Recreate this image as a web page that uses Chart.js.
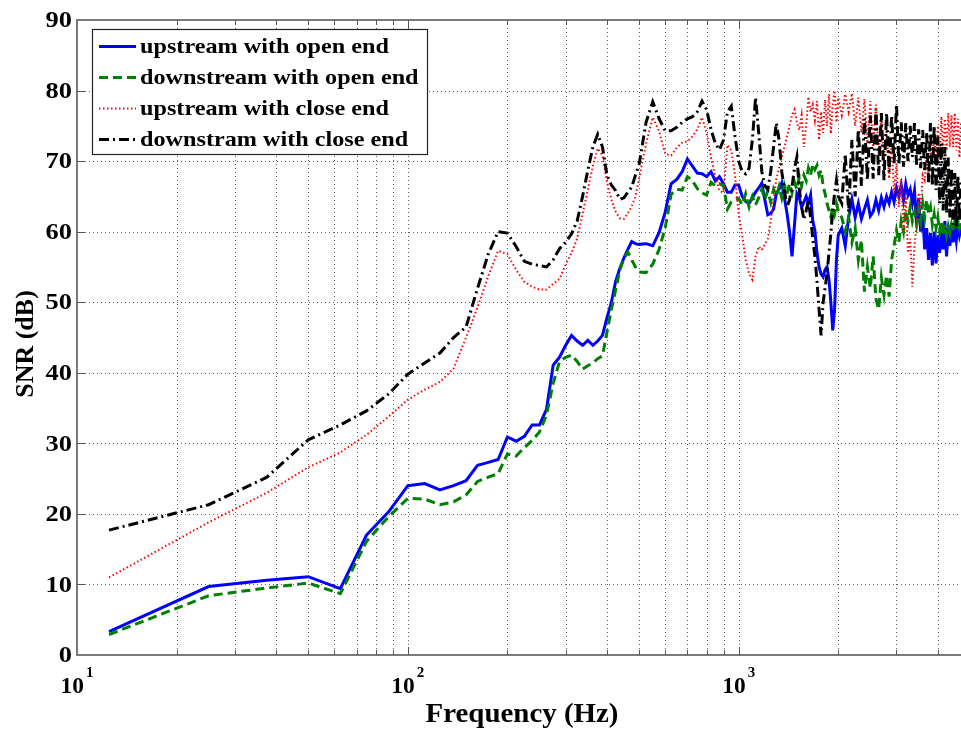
<!DOCTYPE html>
<html>
<head>
<meta charset="utf-8">
<title>SNR vs Frequency</title>
<script src="https://cdn.jsdelivr.net/npm/chart.js@4.4.1/dist/chart.umd.min.js"></script>
<style>
  html, body { margin: 0; padding: 0; background: #ffffff; }
  #wrap { width: 961px; height: 731px; }
</style>
</head>
<body>
<div id="wrap"><canvas id="snr" width="961" height="731"></canvas></div>
<script>
// Frequency axis samples (Hz)
const freqHz = [
  12.5, 25, 37.5, 50, 62.5, 75, 87.5, 100, 112.5, 125,
  137.5, 150, 162.5, 175, 187.5, 200, 212.5, 225, 237.5, 250,
  262.5, 275, 287.5, 300, 312.5, 325, 337.5, 350, 362.5, 375,
  387.5, 400, 412.5, 425, 437.5, 450, 462.5, 475, 487.5, 500,
  525, 550, 575, 600, 625, 650, 675, 700, 725, 750,
  775, 800, 825, 850, 875, 900, 925, 950, 975, 1000,
  1025, 1050, 1075, 1100, 1125, 1150, 1175, 1200, 1225, 1250,
  1275, 1300, 1325, 1350, 1375, 1400, 1425, 1450, 1475, 1500,
  1525, 1550, 1575, 1600, 1625, 1650, 1675, 1700, 1725, 1750,
  1775, 1800, 1825, 1850, 1875, 1900, 1925, 1950, 1975, 2000,
  2050, 2100, 2150, 2200, 2250, 2300, 2350, 2400, 2450, 2500,
  2550, 2600, 2650, 2700, 2750, 2800, 2850, 2900, 2950, 3000,
  3050, 3100, 3150, 3200, 3250, 3300, 3350, 3400, 3450, 3500,
  3550, 3600, 3650, 3700, 3750, 3800, 3850, 3900, 3950, 4000,
  4050, 4100, 4150, 4200, 4250, 4300, 4350, 4400, 4450, 4500,
  4550, 4600, 4650, 4700
];

// SNR (dB), upstream microphone, open end
const upOpen = [
  3.3, 9.7, 10.6, 11.1, 9.4, 17.0, 20.3, 24.0, 24.3, 23.4,
  24.0, 24.7, 26.9, 27.3, 27.7, 30.9, 30.3, 31.0, 32.6, 32.6,
  34.8, 41.1, 42.2, 43.9, 45.3, 44.5, 43.9, 44.6, 43.9, 44.5,
  45.3, 47.8, 50.0, 53.0, 54.8, 56.3, 57.5, 58.6, 58.3, 58.2,
  58.3, 58.0, 59.9, 62.8, 66.8, 67.4, 68.5, 70.3, 69.3, 68.3,
  68.2, 67.8, 68.5, 67.2, 67.8, 66.8, 65.6, 65.6, 66.6, 66.6,
  65.0, 64.3, 64.0, 64.8, 65.6, 66.2, 66.9, 64.5, 62.4, 62.6,
  63.2, 65.4, 66.0, 66.9, 64.8, 62.6, 60.0, 56.5, 61.0, 65.4,
  64.8, 63.5, 64.2, 65.0, 64.0, 65.2, 61.5, 60.2, 57.0, 55.0,
  54.0, 53.6, 54.6, 55.0, 53.2, 50.0, 46.0, 49.0, 56.0, 59.5,
  60.5, 58.0, 62.0, 64.6, 62.0, 64.0, 61.8, 63.2, 64.5, 62.2,
  62.8, 64.5, 63.0, 64.8, 63.5, 65.0, 64.0, 65.6, 64.2, 66.2,
  65.0, 66.6, 64.5, 66.8, 65.2, 66.0, 64.0, 65.8, 61.0, 64.8,
  60.0, 62.5, 57.5, 60.5, 56.0, 59.8, 55.2, 60.0, 55.5, 59.5,
  57.0, 61.0, 57.5, 61.5, 56.5, 60.5, 58.0, 61.2, 58.5, 60.8,
  58.8, 61.0, 59.5, 60.5
];

// SNR (dB), downstream microphone, open end
const downOpen = [
  2.9, 8.4, 9.5, 10.2, 8.7, 16.1, 19.6, 22.2, 22.1, 21.3,
  21.7, 22.7, 24.6, 25.2, 25.7, 28.5, 28.2, 29.4, 30.4, 31.6,
  34.0, 38.5, 41.6, 42.2, 42.5, 41.6, 40.5, 41.0, 41.4, 42.0,
  42.4, 45.8, 49.0, 51.8, 54.6, 56.2, 57.1, 56.0, 55.0, 54.3,
  54.2, 55.4, 57.5, 60.6, 65.3, 66.0, 65.9, 67.8, 67.2, 66.1,
  65.5, 65.2, 67.0, 66.5, 66.8, 66.5, 63.2, 64.2, 64.6, 64.7,
  63.8, 65.4, 63.5, 65.0, 63.8, 64.8, 66.0, 64.6, 65.8, 64.2,
  66.0, 65.0, 66.4, 64.8, 66.6, 65.4, 66.8, 65.5, 67.0, 66.0,
  67.8, 66.5, 68.0, 67.2, 69.0, 68.0, 69.6, 68.8, 69.4, 68.0,
  68.7, 66.5, 65.4, 64.0, 63.0, 62.1, 63.5, 62.5, 64.0, 63.0,
  62.0, 60.0, 62.0, 58.5, 60.5, 56.0, 58.8, 51.5, 55.0, 52.0,
  56.5, 50.5, 49.0, 53.5, 51.0, 53.8, 50.8, 56.0, 58.0, 60.2,
  58.5, 61.5, 60.0, 63.0, 61.5, 63.5, 61.5, 62.8, 61.0, 63.2,
  61.5, 64.0, 62.0, 64.5, 62.5, 63.5, 61.0, 62.5, 60.5, 62.0,
  60.0, 61.5, 59.5, 61.0, 59.5, 60.8, 59.8, 61.0, 60.0, 61.2,
  60.2, 61.5, 60.5, 61.2
];

// SNR (dB), upstream microphone, closed end
const upClose = [
  11.0, 18.8, 23.0, 26.6, 28.7, 31.2, 33.8, 36.2, 37.6, 38.7,
  40.6, 45.0, 49.3, 53.7, 57.3, 56.8, 54.6, 52.9, 52.2, 51.8,
  51.8, 52.6, 53.3, 55.3, 57.0, 59.0, 62.5, 66.0, 69.3, 71.8,
  70.8, 67.0, 64.5, 62.8, 61.9, 61.8, 62.6, 63.6, 65.0, 67.5,
  72.5, 76.2, 74.2, 71.0, 70.8, 71.9, 72.6, 72.8, 73.5, 74.5,
  76.2, 74.0, 70.5, 67.8, 65.8, 65.5, 72.3, 71.5, 68.0, 62.5,
  59.5, 56.0, 54.0, 53.2, 56.5, 57.9, 57.4, 58.2, 59.0, 61.5,
  64.5, 67.5, 69.0, 70.6, 72.0, 73.5, 75.0, 76.5, 77.3, 75.5,
  74.4, 76.5, 72.0, 75.0, 79.1, 77.0, 78.0, 75.8, 78.5, 73.0,
  77.0, 74.0, 78.7, 75.0, 79.5, 73.9, 78.0, 80.0, 75.5, 79.0,
  76.5, 79.5, 77.0, 79.6, 75.0, 79.0, 74.0, 78.8, 72.5, 78.5,
  72.0, 78.0, 71.0, 76.5, 70.0, 74.4, 67.5, 72.5, 65.5, 69.7,
  63.5, 67.5, 60.0, 65.0, 57.0, 59.0, 52.2, 58.0, 61.0, 65.5,
  63.0, 68.0, 67.3, 70.6, 68.0, 72.5, 69.7, 74.4, 70.0, 75.0,
  70.6, 76.3, 71.0, 76.0, 71.5, 76.8, 72.0, 76.5, 72.0, 76.8,
  71.5, 76.0, 70.5, 75.5
];

// SNR (dB), downstream microphone, closed end
const downClose = [
  17.7, 21.3, 25.2, 30.5, 32.6, 34.6, 37.0, 39.8, 41.4, 42.8,
  45.0, 46.5, 52.0, 56.8, 60.0, 59.8, 57.9, 55.8, 55.4, 55.2,
  55.0, 56.0, 57.6, 58.5, 59.7, 61.5, 65.0, 68.7, 72.0, 73.8,
  72.0, 68.0, 66.6, 65.8, 64.6, 64.8, 65.6, 66.3, 68.0, 69.5,
  75.5, 78.4, 76.0, 74.3, 74.3, 74.8, 75.5, 76.0, 76.3, 77.0,
  78.5, 77.3, 74.5, 72.5, 71.6, 73.0, 77.0, 77.8, 73.5, 70.0,
  68.5, 68.2, 69.0, 73.0, 79.0, 74.0, 68.5, 66.5, 66.0, 68.5,
  72.0, 75.4, 73.0, 68.5, 65.9, 63.5, 64.5, 66.4, 69.0, 70.6,
  66.0, 63.5, 61.7, 63.0, 64.5, 62.0, 59.0, 56.5, 53.0, 49.0,
  45.3, 50.0, 52.0, 54.1, 57.0, 59.8, 63.0, 65.5, 67.3, 65.0,
  64.0, 71.0, 62.8, 73.0, 65.0, 74.5, 66.5, 76.0, 67.3, 76.5,
  67.5, 77.3, 68.0, 76.8, 67.3, 76.8, 68.5, 76.5, 69.7, 78.0,
  69.5, 75.5, 69.2, 75.4, 70.0, 75.0, 70.6, 75.4, 69.5, 74.5,
  69.0, 74.4, 68.7, 74.0, 67.0, 75.4, 66.5, 75.0, 65.9, 73.5,
  64.0, 72.5, 63.0, 72.0, 62.6, 70.5, 62.0, 69.0, 61.0, 68.3,
  60.7, 68.0, 61.5, 67.5
];

const seriesLabels = [
  'upstream with open end',
  'downstream with open end',
  'upstream with close end',
  'downstram with close end'
];

// Axis ticks and titles
const yTickValues = [0, 10, 20, 30, 40, 50, 60, 70, 80, 90];
const xDecadeTicks = [10, 100, 1000];
const xDecadeExponents = ['1', '2', '3'];
const xTitle = 'Frequency (Hz)';
const yTitle = 'SNR (dB)';

const SERIF = '"Liberation Serif", "Times New Roman", serif';
const X_MIN = 10, X_MAX = 4700;

const pairs = vals => freqHz.map((f, i) => ({ x: f, y: vals[i] }));

// Minor + major log grid positions
const gridFreqs = xDecadeTicks
  .flatMap(d => [1, 2, 3, 4, 5, 6, 7, 8, 9].map(m => d * m))
  .filter(f => f > X_MIN && f < X_MAX);

// Bold serif text with an optional horizontal stretch and rotation
function drawLabel(ctx, text, x, y, o) {
  ctx.save();
  ctx.translate(x, y);
  if (o.rot) ctx.rotate(o.rot);
  ctx.scale(o.sx || 1, 1);
  ctx.font = 'bold ' + o.size + 'px ' + SERIF;
  ctx.fillStyle = '#000';
  ctx.textAlign = o.align || 'left';
  ctx.textBaseline = o.baseline || 'alphabetic';
  ctx.fillText(text, 0, 0);
  ctx.restore();
}

function labelWidth(ctx, text, size, sx) {
  ctx.save();
  ctx.font = 'bold ' + size + 'px ' + SERIF;
  const w = ctx.measureText(text).width * (sx || 1);
  ctx.restore();
  return w;
}

const framePlugin = {
  id: 'framePlugin',
  beforeDatasetsDraw(chart) {
    const { ctx, chartArea: a, scales: { x, y } } = chart;
    ctx.save();
    ctx.strokeStyle = 'rgba(30,30,30,0.7)';
    ctx.lineWidth = 1;
    ctx.setLineDash([1, 3]);
    ctx.beginPath();
    gridFreqs.forEach(f => {
      const px = Math.round(x.getPixelForValue(f)) + 0.5;
      ctx.moveTo(px, a.top); ctx.lineTo(px, a.bottom);
    });
    yTickValues.forEach(v => {
      if (v <= 0 || v >= 90) return;
      const py = Math.round(y.getPixelForValue(v)) + 0.5;
      ctx.moveTo(a.left, py); ctx.lineTo(a.right, py);
    });
    ctx.stroke();
    ctx.restore();
  },
  afterDatasetsDraw(chart) {
    const { ctx, chartArea: a, scales: { x, y } } = chart;
    ctx.save();
    // axes box (top, left, bottom)
    ctx.strokeStyle = '#7a7a7a';
    ctx.lineWidth = 2;
    ctx.setLineDash([]);
    ctx.beginPath();
    ctx.moveTo(a.right + 2, a.top); ctx.lineTo(a.left, a.top);
    ctx.lineTo(a.left, a.bottom); ctx.lineTo(a.right + 2, a.bottom);
    ctx.stroke();

    // inward tick marks
    ctx.lineWidth = 1;
    ctx.strokeStyle = '#555';
    ctx.beginPath();
    gridFreqs.forEach(f => {
      const px = Math.round(x.getPixelForValue(f)) + 0.5;
      const len = xDecadeTicks.includes(f) ? 8 : 5;
      ctx.moveTo(px, a.top); ctx.lineTo(px, a.top + len);
      ctx.moveTo(px, a.bottom); ctx.lineTo(px, a.bottom - len);
    });
    yTickValues.forEach(v => {
      if (v <= 0 || v >= 90) return;
      const py = Math.round(y.getPixelForValue(v)) + 0.5;
      ctx.moveTo(a.left, py); ctx.lineTo(a.left + 8, py);
    });
    ctx.stroke();
    ctx.restore();

    // y tick labels
    yTickValues.forEach(v => {
      drawLabel(ctx, String(v), a.left - 5, y.getPixelForValue(v) + 1,
        { size: 24, sx: 1.1, align: 'right', baseline: 'middle' });
    });

    // decade labels 10^n
    xDecadeTicks.forEach((f, i) => {
      const px = x.getPixelForValue(f);
      const wBase = labelWidth(ctx, '10', 23, 1.02);
      const wExp = labelWidth(ctx, xDecadeExponents[i], 15, 1);
      const start = px - (wBase + 2 + wExp) / 2;
      drawLabel(ctx, '10', start, a.bottom + 38, { size: 23, sx: 1.02 });
      drawLabel(ctx, xDecadeExponents[i], start + wBase + 2, a.bottom + 22, { size: 15 });
    });

    // axis titles
    drawLabel(ctx, xTitle, (a.left + a.right) / 2 + 3, 722, { size: 27, sx: 1.07, align: 'center' });
    drawLabel(ctx, yTitle, 33, 344, { size: 26, rot: -Math.PI / 2, align: 'center' });

    // legend
    ctx.save();
    const box = { x: 92.5, y: 29.5, w: 335, h: 125 };
    ctx.fillStyle = '#fff';
    ctx.fillRect(box.x, box.y, box.w, box.h);
    ctx.strokeStyle = '#222';
    ctx.lineWidth = 1.2;
    ctx.strokeRect(box.x, box.y, box.w, box.h);
    chart.data.datasets.forEach((ds, i) => {
      const ry = 46.5 + i * 31;
      ctx.save();
      ctx.strokeStyle = ds.borderColor;
      ctx.lineWidth = ds.borderWidth;
      ctx.setLineDash(ds.borderDash || []);
      ctx.lineCap = 'butt';
      ctx.beginPath();
      ctx.moveTo(99, ry); ctx.lineTo(136, ry);
      ctx.stroke();
      ctx.restore();
      drawLabel(ctx, ds.label, 140, ry + 1, { size: 22, sx: 1.1, baseline: 'middle' });
    });
    ctx.restore();
  }
};

new Chart(document.getElementById('snr'), {
  type: 'line',
  data: {
    datasets: [
      { label: seriesLabels[0], data: pairs(upOpen), borderColor: '#0000ff', borderWidth: 3, borderDash: [], order: 4 },
      { label: seriesLabels[1], data: pairs(downOpen), borderColor: '#008000', borderWidth: 3, borderDash: [9, 5], order: 3 },
      { label: seriesLabels[2], data: pairs(upClose), borderColor: '#ff0000', borderWidth: 2, borderDash: [1.5, 2.5], order: 2 },
      { label: seriesLabels[3], data: pairs(downClose), borderColor: '#000000', borderWidth: 3, borderDash: [10, 4, 2, 4], order: 1 }
    ]
  },
  options: {
    responsive: false,
    animation: false,
    devicePixelRatio: 1,
    layout: { padding: { left: 77, right: 0, top: 20, bottom: 76 } },
    elements: {
      point: { radius: 0, hoverRadius: 0 },
      line: { tension: 0, fill: false, borderCapStyle: 'butt', borderJoinStyle: 'miter' }
    },
    plugins: { legend: { display: false }, tooltip: { enabled: false } },
    scales: {
      x: { type: 'logarithmic', display: false, min: X_MIN, max: X_MAX },
      y: { type: 'linear', display: false, min: 0, max: 90 }
    }
  },
  plugins: [framePlugin]
});
</script>
</body>
</html>
